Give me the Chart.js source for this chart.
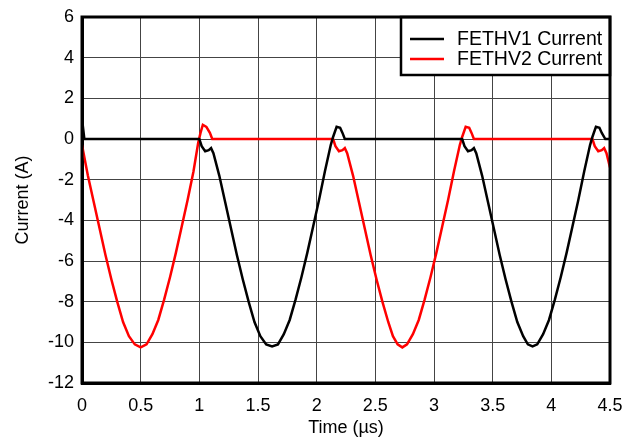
<!DOCTYPE html>
<html>
<head>
<meta charset="utf-8">
<script src="https://cdn.jsdelivr.net/npm/chart.js@4.4.1/dist/chart.umd.min.js"></script>
<style>
  html, body { margin: 0; padding: 0; background: #fff; }
  #wrap { width: 623px; height: 437px; }
</style>
</head>
<body>
<div id="wrap"><canvas id="chartCurrent"></canvas></div>
<script>
Chart.defaults.font.family = "'Liberation Sans', Arial, sans-serif";
Chart.defaults.color = '#000';

// FETHV1 (black)
const timeV1 = [
  0, 0.01, 0.02, 1.0, 1.02, 1.05, 1.08, 1.1, 1.12,
  1.17, 1.22, 1.27, 1.32, 1.37, 1.42, 1.47, 1.52, 1.57, 1.62,
  1.67, 1.72, 1.77, 1.82, 1.87, 1.92, 1.97, 2.02, 2.07, 2.12,
  2.14, 2.17, 2.2, 2.22, 2.24,
  3.24, 3.26, 3.29, 3.32, 3.34, 3.36,
  3.41, 3.46, 3.51, 3.56, 3.61, 3.66, 3.71, 3.76, 3.8, 3.84,
  3.88, 3.93, 3.98, 4.03, 4.08, 4.13, 4.18, 4.23, 4.28, 4.33,
  4.35, 4.38, 4.41, 4.43, 4.46, 4.5
];
const currentV1 = [
  0.4, 0.5, 0, 0, -0.35, -0.6, -0.55, -0.45, -0.7,
  -1.8, -3.1, -4.4, -5.7, -6.9, -8.0, -9.0, -9.7, -10.1, -10.2,
  -10.1, -9.6, -8.9, -7.9, -6.8, -5.6, -4.3, -3.0, -1.6, -0.3,
  0.1, 0.6, 0.55, 0.3, 0,
  0, -0.35, -0.6, -0.55, -0.45, -0.7,
  -1.8, -3.1, -4.4, -5.7, -6.9, -8.0, -9.0, -9.7, -10.1, -10.2,
  -10.1, -9.6, -8.9, -7.9, -6.8, -5.6, -4.3, -3.0, -1.6, -0.3,
  0.1, 0.6, 0.55, 0.3, 0, 0
];

// FETHV2 (red)
const timeV2 = [
  0, 0.05, 0.1, 0.15, 0.2, 0.25, 0.3, 0.35, 0.4, 0.45, 0.5,
  0.55, 0.6, 0.65, 0.7, 0.75, 0.8, 0.85, 0.9, 0.95, 0.99,
  1.01, 1.03, 1.06, 1.09, 1.11,
  2.14, 2.16, 2.19, 2.22, 2.24, 2.26,
  2.31, 2.36, 2.41, 2.46, 2.51, 2.56, 2.61, 2.65, 2.69, 2.73,
  2.77, 2.82, 2.87, 2.92, 2.97, 3.02, 3.07, 3.12, 3.17, 3.22,
  3.24, 3.27, 3.3, 3.32, 3.34,
  4.35, 4.37, 4.4, 4.43, 4.45, 4.47, 4.5
];
const currentV2 = [
  -0.3, -1.8, -3.1, -4.4, -5.7, -6.9, -8.0, -9.0, -9.7, -10.1, -10.25,
  -10.1, -9.6, -8.9, -7.9, -6.8, -5.6, -4.3, -3.0, -1.6, -0.2,
  0.3, 0.7, 0.6, 0.3, 0,
  0, -0.35, -0.6, -0.55, -0.45, -0.7,
  -1.8, -3.1, -4.4, -5.7, -6.9, -8.0, -9.0, -9.7, -10.1, -10.25,
  -10.1, -9.6, -8.9, -7.9, -6.8, -5.6, -4.3, -3.0, -1.6, -0.3,
  0.1, 0.6, 0.55, 0.3, 0,
  0, -0.35, -0.6, -0.55, -0.45, -0.7, -1.4
];

const seriesLabels = ['FETHV1 Current', 'FETHV2 Current'];
const seriesColors = ['#000000', '#ff0000'];

const toPoints = (xs, ys) => xs.map((x, i) => ({ x: x, y: ys[i] }));

// frame round the plot + boxed legend in the top right corner
const frameAndLegend = {
  id: 'frameAndLegend',
  afterDatasetsDraw(chart) {
    const { ctx, chartArea: a } = chart;
    ctx.save();

    const bx = 401, by = a.top, bw = a.right - 401, bh = 58;
    ctx.fillStyle = '#fff';
    ctx.fillRect(bx, by, bw, bh);
    ctx.strokeStyle = '#000';
    ctx.lineWidth = 2.5;
    ctx.strokeRect(bx, by, bw, bh);

    ctx.font = "19.5px 'Liberation Sans', Arial, sans-serif";
    ctx.textBaseline = 'middle';
    ctx.textAlign = 'left';
    chart.data.datasets.forEach((ds, i) => {
      const y = by + 22 + i * 20;
      ctx.strokeStyle = ds.borderColor;
      ctx.lineWidth = 2.5;
      ctx.beginPath();
      ctx.moveTo(410, y);
      ctx.lineTo(444, y);
      ctx.stroke();
      ctx.fillStyle = '#000';
      ctx.fillText(ds.label, 457, y + 1);
    });

    ctx.strokeStyle = '#000';
    ctx.lineWidth = 3;
    ctx.strokeRect(a.left, a.top, a.right - a.left, a.bottom - a.top);
    ctx.restore();
  }
};

const ctx = document.getElementById('chartCurrent').getContext('2d');
new Chart(ctx, {
  type: 'line',
  data: {
    datasets: [
      {
        label: seriesLabels[0],
        data: toPoints(timeV1, currentV1),
        borderColor: seriesColors[0],
        borderWidth: 2.5,
        pointRadius: 0,
        tension: 0
      },
      {
        label: seriesLabels[1],
        data: toPoints(timeV2, currentV2),
        borderColor: seriesColors[1],
        borderWidth: 2.5,
        pointRadius: 0,
        tension: 0
      }
    ]
  },
  options: {
    responsive: true,
    maintainAspectRatio: false,
    animation: false,
    events: [],
    layout: { padding: { top: 17, right: 13, left: 0, bottom: 0 } },
    plugins: {
      legend: { display: false },
      tooltip: { enabled: false }
    },
    scales: {
      x: {
        type: 'linear',
        min: 0,
        max: 4.5,
        afterFit: (s) => {
          s.height = 54;
          s.paddingLeft = 0;
          s.paddingRight = 0;
        },
        ticks: {
          stepSize: 0.5,
          padding: 12,
          font: { size: 18 },
          maxRotation: 0,
          callback: (v) => String(v)
        },
        grid: { color: '#444', lineWidth: 1, drawTicks: false },
        border: { color: '#000', width: 3 },
        title: {
          display: true,
          text: 'Time (µs)',
          font: { size: 18 },
          padding: { top: 0, bottom: -2 }
        }
      },
      y: {
        min: -12,
        max: 6,
        afterFit: (s) => {
          s.width = 82;
          s.paddingTop = 0;
          s.paddingBottom = 0;
        },
        ticks: {
          stepSize: 2,
          padding: 8,
          font: { size: 18 }
        },
        grid: { color: '#444', lineWidth: 1, drawTicks: false },
        border: { color: '#000', width: 3 },
        title: {
          display: true,
          text: 'Current (A)',
          font: { size: 18 },
          padding: { top: 12, bottom: 0 }
        }
      }
    }
  },
  plugins: [frameAndLegend]
});
</script>
</body>
</html>
